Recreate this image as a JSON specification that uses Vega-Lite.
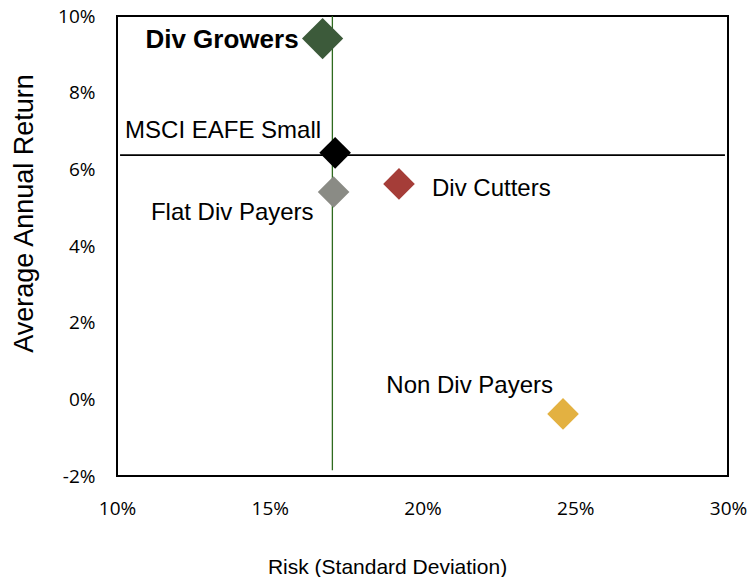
{
  "$schema": "https://vega.github.io/schema/vega-lite/v6.json",
  "width": 611,
  "height": 460,
  "autosize": "none",
  "padding": {"left": 117, "top": 16, "right": 23, "bottom": 101},
  "background": "white",
  "config": {
    "view": {"stroke": "black", "strokeWidth": 2},
    "font": "Liberation Sans"
  },
  "datasets": {
    "pts": [
      {"name": "Div Growers", "risk": 16.73, "ret": 9.41, "color": "#3c5a3a"},
      {"name": "MSCI EAFE Small", "risk": 17.14, "ret": 6.43, "color": "#000000"},
      {"name": "Flat Div Payers", "risk": 17.09, "ret": 5.41, "color": "#8a8b85"},
      {"name": "Div Cutters", "risk": 19.23, "ret": 5.62, "color": "#a53d38"},
      {"name": "Non Div Payers", "risk": 24.6, "ret": -0.38, "color": "#e3b141"}
    ],
    "hline": [{"x1": 10.1, "x2": 29.9, "y": 6.37}],
    "vline": [{"x": 17.05, "y1": 10, "y2": -1.85}]
  },
  "layer": [
    {
      "data": {"name": "hline"},
      "mark": {"type": "rule", "color": "black", "strokeWidth": 1.6},
      "encoding": {
        "x": {"field": "x1", "type": "quantitative", "scale": {"domain": [10, 30]},
          "axis": {"values": [10, 15, 20, 25, 30], "labelExpr": "datum.value + '%'", "grid": false, "ticks": false, "domain": false,
            "labelFlush": false, "labelOverlap": false,
            "labelFont": "Open Sans", "labelFontSize": 19, "labelColor": "black", "labelPadding": 23,
            "title": "Risk (Standard Deviation)", "titleFont": "Liberation Sans", "titleFontSize": 21, "titleFontWeight": "normal",
            "titleColor": "black", "titleX": 270, "titleY": 97, "titleBaseline": "alphabetic", "titleAlign": "center"}},
        "x2": {"field": "x2"},
        "y": {"field": "y", "type": "quantitative", "scale": {"domain": [-2, 10]},
          "axis": {"values": [-2, 0, 2, 4, 6, 8, 10], "labelExpr": "datum.value + '%'", "grid": false, "ticks": false, "domain": false,
            "labelFlush": false, "labelOverlap": false,
            "labelFont": "Open Sans", "labelFontSize": 19, "labelColor": "black", "labelPadding": 22,
            "title": "Average Annual Return", "titleFont": "Liberation Sans", "titleFontSize": 27, "titleFontWeight": "normal",
            "titleColor": "black", "titleX": -93, "titleY": 197, "titleAngle": -90, "titleBaseline": "middle", "titleAlign": "center"}}
      }
    },
    {
      "data": {"name": "vline"},
      "mark": {"type": "rule", "color": "#2f6b1f", "strokeWidth": 1.3},
      "encoding": {
        "x": {"field": "x", "type": "quantitative"},
        "y": {"field": "y1", "type": "quantitative"},
        "y2": {"field": "y2"}
      }
    },
    {
      "data": {"name": "pts"},
      "mark": {"type": "point", "shape": "diamond", "filled": true, "opacity": 1},
      "encoding": {
        "x": {"field": "risk", "type": "quantitative"},
        "y": {"field": "ret", "type": "quantitative"},
        "color": {"field": "color", "type": "nominal", "scale": null, "legend": null},
        "size": {"condition": {"test": "datum.name === 'Div Growers'", "value": 1700}, "value": 1000}
      }
    },
    {
      "data": {"name": "pts"},
      "transform": [{"filter": "datum.name === 'Div Growers'"}],
      "mark": {"type": "text", "align": "right", "baseline": "alphabetic", "dx": -24, "dy": 9.5, "fontSize": 26, "fontWeight": "bold", "color": "black"},
      "encoding": {"x": {"field": "risk", "type": "quantitative"}, "y": {"field": "ret", "type": "quantitative"}, "text": {"field": "name"}}
    },
    {
      "data": {"name": "pts"},
      "transform": [{"filter": "datum.name === 'MSCI EAFE Small'"}],
      "mark": {"type": "text", "align": "right", "baseline": "alphabetic", "dx": -14, "dy": -15, "fontSize": 24, "color": "black"},
      "encoding": {"x": {"field": "risk", "type": "quantitative"}, "y": {"field": "ret", "type": "quantitative"}, "text": {"field": "name"}}
    },
    {
      "data": {"name": "pts"},
      "transform": [{"filter": "datum.name === 'Flat Div Payers'"}],
      "mark": {"type": "text", "align": "right", "baseline": "alphabetic", "dx": -20, "dy": 28, "fontSize": 24, "color": "black"},
      "encoding": {"x": {"field": "risk", "type": "quantitative"}, "y": {"field": "ret", "type": "quantitative"}, "text": {"field": "name"}}
    },
    {
      "data": {"name": "pts"},
      "transform": [{"filter": "datum.name === 'Div Cutters'"}],
      "mark": {"type": "text", "align": "left", "baseline": "alphabetic", "dx": 33, "dy": 12, "fontSize": 24, "color": "black"},
      "encoding": {"x": {"field": "risk", "type": "quantitative"}, "y": {"field": "ret", "type": "quantitative"}, "text": {"field": "name"}}
    },
    {
      "data": {"name": "pts"},
      "transform": [{"filter": "datum.name === 'Non Div Payers'"}],
      "mark": {"type": "text", "align": "right", "baseline": "alphabetic", "dx": -10, "dy": -21, "fontSize": 24, "color": "black"},
      "encoding": {"x": {"field": "risk", "type": "quantitative"}, "y": {"field": "ret", "type": "quantitative"}, "text": {"field": "name"}}
    }
  ]
}
